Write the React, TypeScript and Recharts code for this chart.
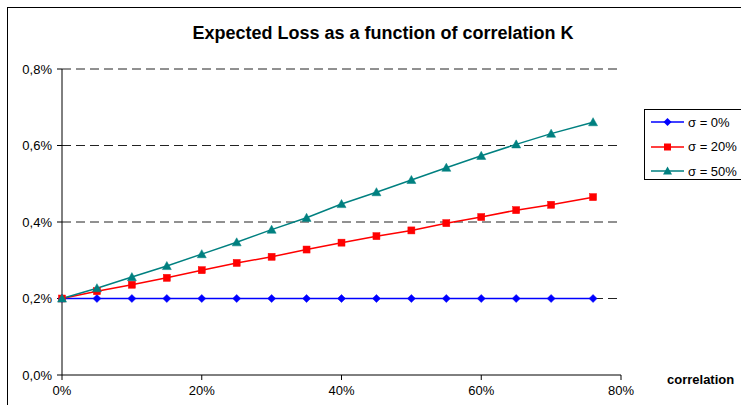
import React from "react";
import { LineChart, Line, XAxis, YAxis, CartesianGrid } from "recharts";

const correlation = [0, 5, 10, 15, 20, 25, 30, 35, 40, 45, 50, 55, 60, 65, 70, 76];
const sigma0 = [0.2, 0.2, 0.2, 0.2, 0.2, 0.2, 0.2, 0.2, 0.2, 0.2, 0.2, 0.2, 0.2, 0.2, 0.2, 0.2];
const sigma20 = [0.2, 0.219, 0.236, 0.254, 0.274, 0.293, 0.309, 0.328, 0.346, 0.363, 0.378, 0.397, 0.413, 0.431, 0.445, 0.465];
const sigma50 = [0.2, 0.227, 0.256, 0.285, 0.316, 0.347, 0.38, 0.411, 0.447, 0.478, 0.51, 0.542, 0.573, 0.603, 0.631, 0.661];
const xTicks = [0, 20, 40, 60, 80];
const yTicks = [0, 0.2, 0.4, 0.6, 0.8];
const seriesNames = ["σ = 0%", "σ = 20%", "σ = 50%"];
const title = "Expected Loss as a function of correlation K";
const xLabel = "correlation";

const BLUE = "#0000FF";
const RED = "#FF0000";
const TEAL = "#008080";
const FONT = "'Liberation Sans', Arial, sans-serif";

const data = correlation.map((c, i) => ({
  x: c,
  s0: sigma0[i],
  s20: sigma20[i],
  s50: sigma50[i],
}));

const diamondPts = (cx: number, cy: number, r: number) =>
  `${cx},${cy - r} ${cx + r},${cy} ${cx},${cy + r} ${cx - r},${cy}`;
const trianglePts = (cx: number, cy: number, r: number) =>
  `${cx},${cy - r} ${cx + r},${cy + r * 0.8} ${cx - r},${cy + r * 0.8}`;

const DiamondDot = (p: any) => {
  if (p.cx == null || p.cy == null) return <g key={p.key} />;
  return <polygon key={p.key} points={diamondPts(p.cx, p.cy, 4)} fill={BLUE} stroke={BLUE} strokeWidth={0.5} />;
};
const SquareDot = (p: any) => {
  if (p.cx == null || p.cy == null) return <g key={p.key} />;
  return <rect key={p.key} x={p.cx - 3.5} y={p.cy - 3.5} width={7} height={7} fill={RED} stroke={RED} strokeWidth={0.5} />;
};
const TriangleDot = (p: any) => {
  if (p.cx == null || p.cy == null) return <g key={p.key} />;
  return <polygon key={p.key} points={trianglePts(p.cx, p.cy, 4.5)} fill={TEAL} stroke={TEAL} strokeWidth={0.5} />;
};

const fmtPct = (v: number) => `${v.toFixed(1).replace(".", ",")}%`;
const fmtX = (v: number) => `${v}%`;

const legendItems = [
  { name: seriesNames[0], color: BLUE, shape: "diamond" },
  { name: seriesNames[1], color: RED, shape: "square" },
  { name: seriesNames[2], color: TEAL, shape: "triangle" },
];

export default function App() {
  return (
    <div
      style={{
        position: "absolute",
        left: 0,
        top: 0,
        width: 741,
        height: 405,
        overflow: "hidden",
        background: "#fff",
        fontFamily: FONT,
      }}
    >
      <div
        style={{
          position: "absolute",
          left: 7,
          top: 7,
          width: 900,
          height: 600,
          border: "1.5px solid #000",
          boxSizing: "border-box",
        }}
      />
      <div
        style={{
          position: "absolute",
          left: 0,
          top: 23,
          width: 766,
          textAlign: "center",
          fontSize: 18,
          lineHeight: "20px",
          fontWeight: "bold",
          color: "#000",
        }}
      >
        {title}
      </div>
      <div style={{ position: "absolute", left: 0, top: 0 }}>
        <LineChart
          width={741}
          height={405}
          data={data}
          margin={{ top: 69, right: 120, bottom: 0, left: 0 }}
        >
          <CartesianGrid
            horizontal={true}
            vertical={false}
            stroke="#222"
            strokeDasharray="9 5"
            horizontalValues={[0.2, 0.4, 0.6, 0.8]}
          />
          <XAxis
            dataKey="x"
            type="number"
            domain={[0, 80]}
            ticks={xTicks}
            tickFormatter={fmtX}
            height={30}
            tickSize={5}
            tickMargin={6}
            axisLine={{ stroke: "#000", strokeWidth: 1 }}
            tickLine={{ stroke: "#000" }}
            tick={{ fill: "#000", fontSize: 13, fontFamily: FONT }}
            interval={0}
          />
          <YAxis
            type="number"
            domain={[0, 0.8]}
            ticks={yTicks}
            tickFormatter={fmtPct}
            width={62}
            tickSize={5}
            tickMargin={5}
            axisLine={{ stroke: "#000", strokeWidth: 1 }}
            tickLine={{ stroke: "#000" }}
            tick={{ fill: "#000", fontSize: 13, fontFamily: FONT }}
            interval={0}
          />
          <Line
            dataKey="s0"
            name={seriesNames[0]}
            stroke={BLUE}
            strokeWidth={1.5}
            dot={DiamondDot}
            activeDot={false}
            isAnimationActive={false}
          />
          <Line
            dataKey="s20"
            name={seriesNames[1]}
            stroke={RED}
            strokeWidth={1.5}
            dot={SquareDot}
            activeDot={false}
            isAnimationActive={false}
          />
          <Line
            dataKey="s50"
            name={seriesNames[2]}
            stroke={TEAL}
            strokeWidth={1.5}
            dot={TriangleDot}
            activeDot={false}
            isAnimationActive={false}
          />
        </LineChart>
      </div>
      <div
        style={{
          position: "absolute",
          left: 667,
          top: 372,
          fontSize: 13,
          fontWeight: "bold",
          lineHeight: "16px",
          color: "#000",
          whiteSpace: "nowrap",
        }}
      >
        {xLabel}
      </div>
      <div
        style={{
          position: "absolute",
          left: 644,
          top: 109,
          width: 120,
          height: 71,
          border: "1px solid #000",
          boxSizing: "border-box",
          background: "#fff",
        }}
      >
        {legendItems.map((it, i) => (
          <div
            key={it.name}
            style={{
              position: "absolute",
              left: 5,
              top: 3 + i * 24.5,
              height: 18,
              display: "flex",
              alignItems: "center",
              whiteSpace: "nowrap",
            }}
          >
            <svg width={35} height={18} style={{ display: "block" }}>
              <line x1={1} y1={9} x2={34} y2={9} stroke={it.color} strokeWidth={1.5} />
              {it.shape === "diamond" && <polygon points={diamondPts(17.5, 9, 4)} fill={it.color} />}
              {it.shape === "square" && <rect x={14} y={5.5} width={7} height={7} fill={it.color} />}
              {it.shape === "triangle" && <polygon points={trianglePts(17.5, 9, 4.5)} fill={it.color} />}
            </svg>
            <span style={{ fontSize: 13, color: "#000", marginLeft: 3 }}>{it.name}</span>
          </div>
        ))}
      </div>
    </div>
  );
}
